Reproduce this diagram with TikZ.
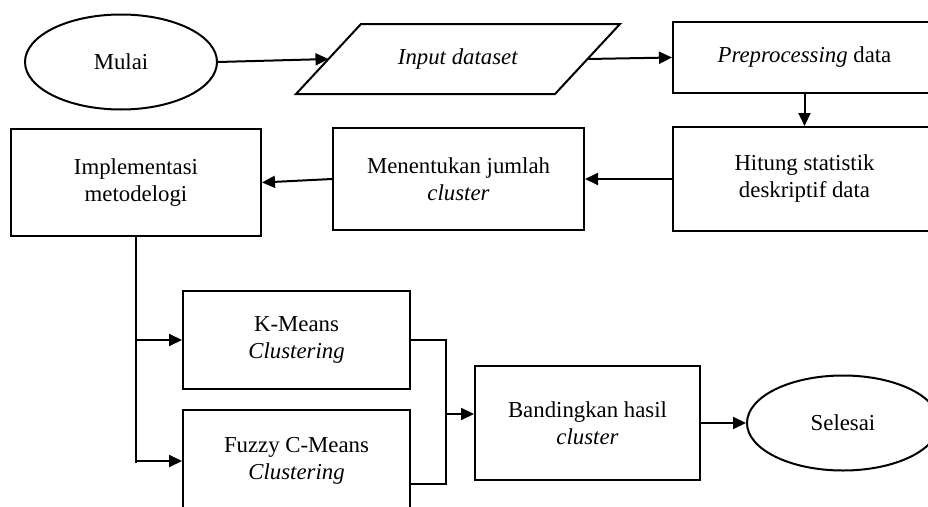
\documentclass[tikz,border=0pt]{standalone}
\usepackage{fontspec}
\setmainfont{Liberation Serif}
\usetikzlibrary{arrows.meta, shapes.geometric}
\tikzset{
  flowbox/.style={draw, line width=2pt, align=center, inner sep=0pt,
                  font=\fontsize{22.8}{27}\selectfont},
  process/.style={flowbox, rectangle},
  terminal/.style={flowbox, ellipse, minimum width=192pt, minimum height=95pt},
  iobox/.style={flowbox, draw=none, minimum width=257pt, minimum height=68pt},
  flowarrow/.style={-{Triangle[length=13pt, width=12pt]}, line width=2pt},
  flowline/.style={line width=2pt}
}

\begin{document}
\begin{tikzpicture}[x=1pt, y=-1pt]
\clip (0,0) rectangle (928,506);

% Nodes (top row)
\node[terminal] (mulai) at (121,62) {Mulai};
\node[iobox] (input) at (458,59) {\textit{Input dataset}};
\node[process, minimum width=263pt, minimum height=71pt] (prepro) at (804.5,57.5) {\textit{Preprocessing} data};

% Nodes (second row)
\node[process, minimum width=263pt, minimum height=104pt] (hitung) at (804.5,179) {Hitung statistik\\deskriptif data};
\node[process, minimum width=251pt, minimum height=102pt] (jumlah) at (458.5,179) {Menentukan jumlah\\\textit{cluster}};
\node[process, minimum width=250pt, minimum height=107pt] (impl) at (136,182.5) {Implementasi\\metodelogi};

% Nodes (methods + result)
\node[process, minimum width=227pt, minimum height=98pt] (kmeans) at (296.5,340) {K-Means\\\textit{Clustering}};
\node[process, minimum width=227pt, minimum height=102pt] (fcm) at (296.5,461) {Fuzzy C-Means\\\textit{Clustering}};
\node[process, minimum width=225pt, minimum height=114pt] (banding) at (587.5,423) {Bandingkan hasil\\\textit{cluster}};
\node[terminal] (selesai) at (843,423) {Selesai};

% Parallelogram for input
\draw[flowline] ([xshift=32.5pt]input.north west) -- ([xshift=32.5pt]input.north east)
  -- ([xshift=-32.5pt]input.south east) -- ([xshift=-32.5pt]input.south west) -- cycle;

% Arrows
\draw[flowarrow] (mulai.east) -- (input.west);
\draw[flowarrow] (input.east) -- (prepro.west);
\draw[flowarrow] (prepro.south) -- (hitung.north);
\draw[flowarrow] (hitung.west) -- (jumlah.east);
\draw[flowarrow] (jumlah.west) -- (impl.east);

% Split into both methods
\coordinate (split) at (136,463);
\draw[flowline] (impl.south) -- (split);
\draw[flowarrow] (impl.south |- kmeans.west) -- (kmeans.west);
\draw[flowarrow] (impl.south |- fcm.west) -- (fcm.west);

% Merge results
\coordinate (join) at (446,414);
\coordinate (fcmout) at ([yshift=-23pt]fcm.east);
\draw[flowline] (kmeans.east) -- (kmeans.east -| join) -- (join |- fcmout) -- (fcmout);
\draw[flowarrow] (join) -- (join -| banding.west);
\draw[flowarrow] (banding.east) -- (selesai.west);

\end{tikzpicture}
\end{document}
